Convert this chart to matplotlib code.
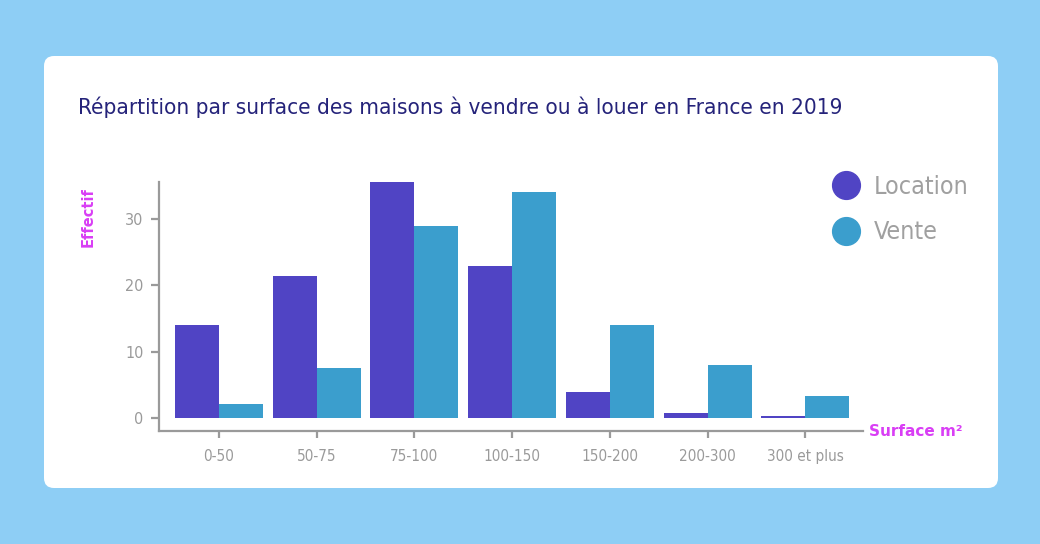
import numpy as np
import matplotlib
matplotlib.use("Agg")
import matplotlib.pyplot as plt
from matplotlib.patches import FancyBboxPatch
from matplotlib.lines import Line2D

plt.rcParams['font.family'] = ['DejaVu Sans']
plt.rcParams['font.stretch'] = 'condensed'

categories = ['0-50', '50-75', '75-100', '100-150', '150-200', '200-300', '300 et plus']
location = [14, 21.4, 35.5, 22.9, 4.0, 0.8, 0.3]
vente = [2.2, 7.6, 28.9, 34.0, 14.0, 8.0, 3.4]

c_loc = '#5044c4'
c_vente = '#3b9ecd'
c_grey = '#9a9a9a'
c_pink = '#d93ef5'

fig = plt.figure(figsize=(10.4, 5.44), dpi=100)
fig.patch.set_facecolor('#8ecef5')

# background card in pixel coords
bg = fig.add_axes([0, 0, 1, 1])
bg.set_xlim(0, 1040)
bg.set_ylim(544, 0)
bg.axis('off')
card = FancyBboxPatch((44, 56), 954, 432, boxstyle='round,pad=0,rounding_size=10',
                      fc='white', ec='none')
bg.add_patch(card)

ax = fig.add_axes([159/1040, 1-431/544, 704/1040, 249/544])
ax.set_facecolor('none')
x = np.arange(len(categories))
w = 0.45
ax.bar(x - w/2, location, w, color=c_loc, label='Location')
ax.bar(x + w/2, vente, w, color=c_vente, label='Vente')

ax.set_xlim(-0.614, 6.59)
ax.set_ylim(-1.9, 35.5)
ax.set_xticks(x)
ax.set_xticklabels(categories)
ax.set_yticks([0, 10, 20, 30])
for s in ['top', 'right']:
    ax.spines[s].set_visible(False)
for s in ['left', 'bottom']:
    ax.spines[s].set_color(c_grey)
    ax.spines[s].set_linewidth(1.6)
ax.tick_params(axis='x', colors=c_grey, length=5, width=1.6, labelsize=11, pad=8)
ax.tick_params(axis='y', colors=c_grey, length=6, width=1.6, labelsize=11.5, pad=5)

fig.text(78/1040, 1-107/544, 'Répartition par surface des maisons à vendre ou à louer en France en 2019',
         fontsize=16.1, color='#25237a', va='center', ha='left')
fig.text(88/1040, 1-217/544, 'Effectif', rotation=90, color=c_pink, fontsize=10.5,
         fontweight='bold', stretch='normal', ha='center', va='center')
fig.text(869/1040, 1-431/544, 'Surface m²', color=c_pink, fontsize=11,
         fontweight='bold', stretch='normal', ha='left', va='center')

handles = [Line2D([], [], ls='none', marker='o', ms=20, color=c_loc),
           Line2D([], [], ls='none', marker='o', ms=20, color=c_vente)]
fig.legend(handles, ['Location', 'Vente'], loc='upper left',
           bbox_to_anchor=(831/1040, 1-175/544), frameon=False, fontsize=18,
           labelcolor='#a0a0a0', handletextpad=0.5, labelspacing=0.85,
           handlelength=1.2, borderaxespad=0, borderpad=0)

fig.savefig('out.png', dpi=100, facecolor=fig.get_facecolor())
